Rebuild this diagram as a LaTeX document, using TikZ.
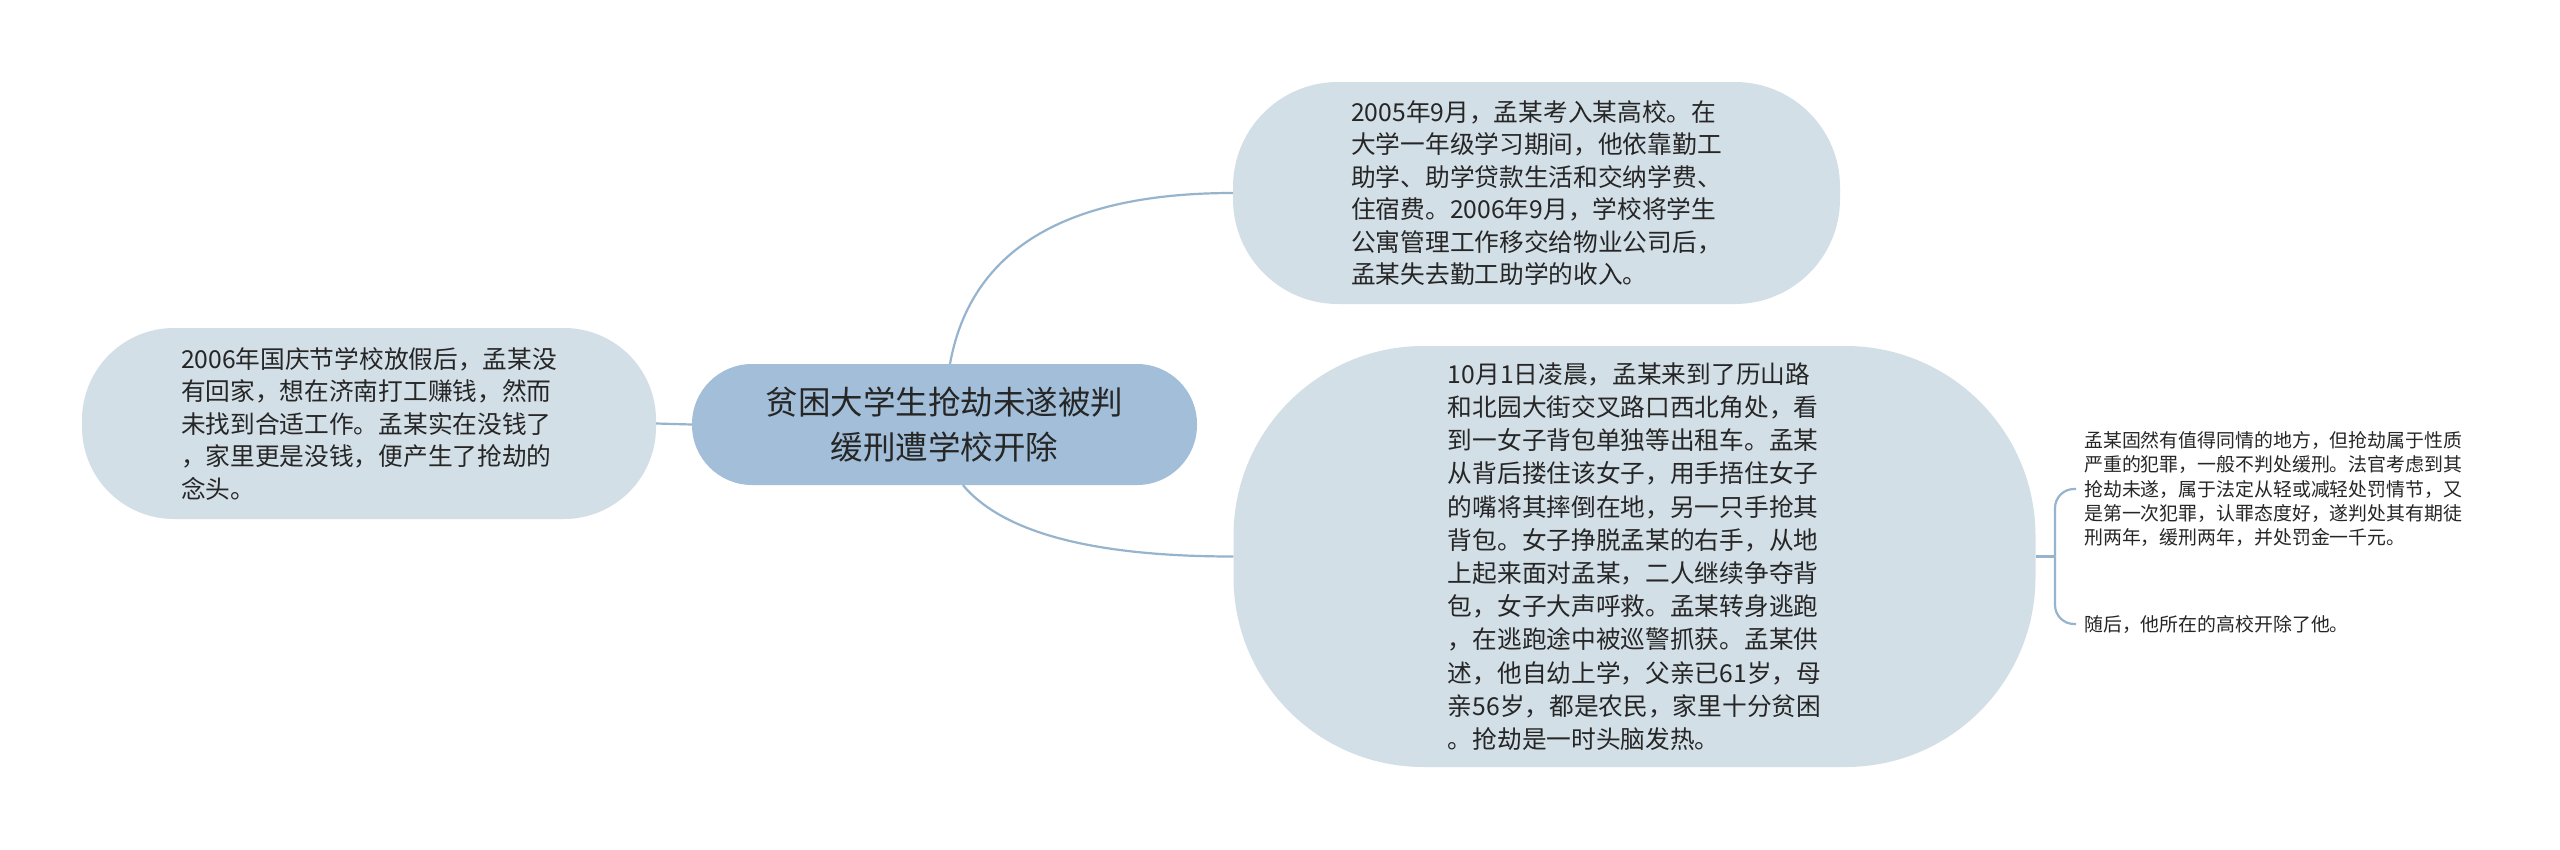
\documentclass[tikz,border=0pt]{standalone}
\usepackage{fontspec}
\usetikzlibrary{calc}
\newfontfamily\cjk{Noto Sans CJK SC}
\definecolor{rootfill}{HTML}{A2BED8}
\definecolor{nodefill}{HTML}{D3DFE7}
\definecolor{linkcol}{HTML}{96B4CD}
\definecolor{txt}{HTML}{262626}
\tikzset{
  rootbox/.style={fill=rootfill, text=txt, align=center, inner sep=0pt,
    font=\cjk\fontsize{32.5pt}{45pt}\selectfont},
  branchbox/.style={fill=nodefill, text=txt, align=left, inner sep=0pt,
    font=\cjk\fontsize{24.7pt}{32.5pt}\selectfont},
  leafbox/.style={text=txt, align=left, inner sep=8pt, anchor=west,
    font=\cjk\fontsize{18.9pt}{24.2pt}\selectfont},
  link/.style={draw=linkcol, line width=2.2pt}
}
\begin{document}
\begin{tikzpicture}[x=1pt,y=-1pt]
\useasboundingbox (0,0) rectangle (2560,849);
\fill[white] (0,0) rectangle (2560,849);

\node[rootbox, minimum width=505pt, minimum height=121pt, rounded corners=60pt] (c) at (944.5,424.5)
  {贫困大学生抢劫未遂被判\\缓刑遭学校开除};

\node[branchbox, minimum width=574pt, minimum height=191pt, rounded corners=92pt] (l) at (369,423.5)
  {2006年国庆节学校放假后，孟某没\\有回家，想在济南打工赚钱，然而\\未找到合适工作。孟某实在没钱了\\，家里更是没钱，便产生了抢劫的\\念头。};

\node[branchbox, minimum width=607pt, minimum height=222pt, rounded corners=105pt] (t) at (1536.5,193)
  {2005年9月，孟某考入某高校。在\\大学一年级学习期间，他依靠勤工\\助学、助学贷款生活和交纳学费、\\住宿费。2006年9月，学校将学生\\公寓管理工作移交给物业公司后，\\孟某失去勤工助学的收入。};

\node[branchbox, minimum width=802pt, minimum height=421pt, rounded corners=190pt,
  font=\cjk\fontsize{24.7pt}{33.2pt}\selectfont] (b) at (1634.5,556.5)
  {10月1日凌晨，孟某来到了历山路\\和北园大街交叉路口西北角处，看\\到一女子背包单独等出租车。孟某\\从背后搂住该女子，用手捂住女子\\的嘴将其摔倒在地，另一只手抢其\\背包。女子挣脱孟某的右手，从地\\上起来面对孟某，二人继续争夺背\\包，女子大声呼救。孟某转身逃跑\\，在逃跑途中被巡警抓获。孟某供\\述，他自幼上学，父亲已61岁，母\\亲56岁，都是农民，家里十分贫困\\。抢劫是一时头脑发热。};

\node[leafbox] (r1) at (2076,489)
  {孟某固然有值得同情的地方，但抢劫属于性质\\严重的犯罪，一般不判处缓刑。法官考虑到其\\抢劫未遂，属于法定从轻或减轻处罚情节，又\\是第一次犯罪，认罪态度好，遂判处其有期徒\\刑两年，缓刑两年，并处罚金一千元。};
\node[leafbox] (r2) at (2076,624) {随后，他所在的高校开除了他。};

\coordinate (ct) at ([xshift=5.5pt]c.north);
\coordinate (cb) at ([xshift=18.5pt]c.south);
\coordinate (qt) at ($(ct |- t.west)+(31,0)$);
\coordinate (qb) at ($(cb |- b.west)+(60,0)$);
\coordinate (k) at (2055,556.5);

\draw[link] (c.west) -- (l.east);
\draw[link] (ct) .. controls ($(ct)!0.6667!(qt)$) and ($(t.west)!0.6667!(qt)$) .. (t.west);
\draw[link] (cb) .. controls ($(cb)!0.6667!(qb)$) and ($(b.west)!0.6667!(qb)$) .. (b.west);
\draw[link] (b.east) -- (k);
\draw[link, rounded corners=19pt] (k) |- (r1.west);
\draw[link, rounded corners=19pt] (k) |- (r2.west);
\end{tikzpicture}
\end{document}
